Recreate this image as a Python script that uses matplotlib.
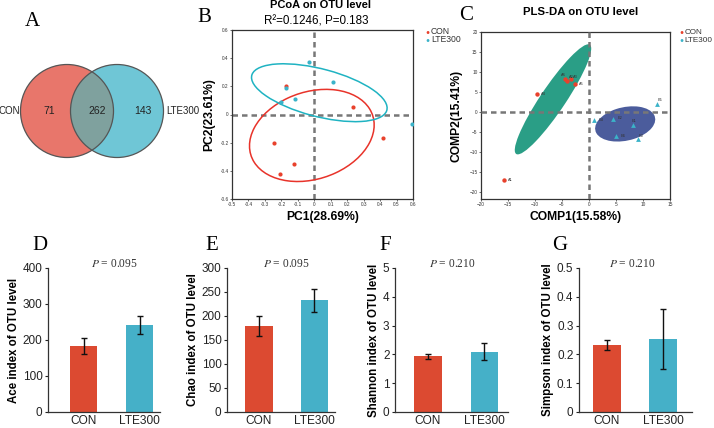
import numpy as np
import matplotlib
matplotlib.use("Agg")
import matplotlib.pyplot as plt
from matplotlib.patches import Circle, Ellipse

plt.rcParams['font.family'] = ['Liberation Sans', 'DejaVu Sans']
plt.rcParams['mathtext.fontset'] = 'stix'

# ---------------- data ----------------
venn_groups = ['CON', 'LTE300']
venn_counts = [71, 262, 143]  # CON only, shared, LTE300 only

pcoa_con_x = [-0.17, 0.235, 0.42, -0.245, -0.123, -0.206]
pcoa_con_y = [0.20, 0.05, -0.167, -0.20, -0.35, -0.425]
pcoa_lte_x = [-0.03, 0.114, -0.174, -0.12, -0.20, 0.594]
pcoa_lte_y = [0.375, 0.23, 0.19, 0.11, 0.09, -0.067]

plsda_con_labels = ['A1', 'A2', 'A3', 'A4', 'A5', 'A6']
plsda_con_x = [-15.8, -4.0, -3.4, -9.7, -2.6, -4.5]
plsda_con_y = [-17.0, 7.8, 8.2, 4.6, 7.1, 8.3]
plsda_lte_labels = ['E1', 'E2', 'E3', 'E4', 'E5', 'E6']
plsda_lte_x = [8.2, 4.5, 9.0, 1.0, 12.5, 5.0]
plsda_lte_y = [-3.3, -1.8, -6.8, -2.0, 2.0, -6.0]

groups = ['CON', 'LTE300']
ace_mean = [184, 243]
ace_err = [22, 25]
chao_mean = [179, 233]
chao_err = [20, 24]
shannon_mean = [1.93, 2.10]
shannon_err = [0.10, 0.30]
simpson_mean = [0.234, 0.254]
simpson_err = [0.017, 0.103]
p_values = ['0.095', '0.095', '0.210', '0.210']

# ---------------- layout helpers ----------------
W, H = 714, 428
fig = plt.figure(figsize=(W / 100, H / 100), dpi=100)


def px_axes(l, t, r, b):
    return fig.add_axes([l / W, 1 - b / H, (r - l) / W, (b - t) / H])


def ftext(x, y, s, **kw):
    kw.setdefault('ha', 'center')
    kw.setdefault('va', 'center')
    return fig.text(x / W, 1 - y / H, s, **kw)


def conf_ellipse(ax, x, y, n_std, **kw):
    x = np.asarray(x); y = np.asarray(y)
    cov = np.cov(x, y)
    vals, vecs = np.linalg.eigh(cov)
    order = vals.argsort()[::-1]
    vals, vecs = vals[order], vecs[:, order]
    angle = np.degrees(np.arctan2(vecs[1, 0], vecs[0, 0]))
    w, h = 2 * n_std * np.sqrt(vals)
    e = Ellipse((x.mean(), y.mean()), w, h, angle=angle, **kw)
    ax.add_patch(e)
    return e


SERIF = ['Liberation Serif', 'DejaVu Serif']
RED = '#E8412C'
CYAN = '#3BB3C9'

# ---------------- A: Venn ----------------
axA = px_axes(0, 0, 190, 220)
axA.set_xlim(0, 190)
axA.set_ylim(220, 0)
axA.set_aspect('equal')
axA.axis('off')
cl = Circle((67, 111), 46.5, facecolor='#E8766B', edgecolor='none')
cr = Circle((117, 111), 46.5, facecolor='#6FC6D6', edgecolor='none')
axA.add_patch(cl)
axA.add_patch(cr)
ov = Circle((117, 111), 46.5, facecolor='#7FA19E', edgecolor='none')
axA.add_patch(ov)
ov.set_clip_path(cl)
axA.add_patch(Circle((67, 111), 46.5, facecolor='none', edgecolor='#555555', lw=0.9))
axA.add_patch(Circle((117, 111), 46.5, facecolor='none', edgecolor='#555555', lw=0.9))
axA.text(49, 111, str(venn_counts[0]), ha='center', va='center', fontsize=7.5, color='#222222')
axA.text(97, 111, str(venn_counts[1]), ha='center', va='center', fontsize=7.5, color='#222222')
axA.text(143, 111, str(venn_counts[2]), ha='center', va='center', fontsize=7.5, color='#222222')
axA.text(20, 111, venn_groups[0], ha='right', va='center', fontsize=7, color='#222222')
axA.text(166, 111, venn_groups[1], ha='left', va='center', fontsize=7, color='#222222')
ftext(32, 21, 'A', fontsize=15, family=SERIF)

# ---------------- B: PCoA ----------------
axB = px_axes(232, 30, 413, 199)
axB.set_xlim(-0.5, 0.6)
axB.set_ylim(-0.6, 0.6)
axB.axvline(0, color='#777777', lw=1.8, ls=(0, (2.2, 1.6)), zorder=1)
axB.axhline(0, color='#777777', lw=1.8, ls=(0, (2.2, 1.6)), zorder=1)
conf_ellipse(axB, pcoa_con_x, pcoa_con_y, 1.38, facecolor='none', edgecolor='#E8332A', lw=1.1, zorder=2)
conf_ellipse(axB, pcoa_lte_x, pcoa_lte_y, 1.38, facecolor='none', edgecolor='#1FB3C2', lw=1.1, zorder=2)
axB.scatter(pcoa_con_x, pcoa_con_y, s=9, color=RED, zorder=3, lw=0)
axB.scatter(pcoa_lte_x, pcoa_lte_y, s=9, color=CYAN, zorder=3, lw=0)
axB.set_xticks(np.round(np.arange(-0.5, 0.61, 0.1), 1))
axB.set_yticks(np.round(np.arange(-0.6, 0.61, 0.2), 1))
axB.set_xticklabels(['-0.5', '-0.4', '-0.3', '-0.2', '-0.1', '0', '0.1', '0.2', '0.3', '0.4', '0.5', '0.6'])
axB.set_yticklabels(['-0.6', '-0.4', '-0.2', '0', '0.2', '0.4', '0.6'])
axB.tick_params(labelsize=3.4, length=1.5, width=0.5, pad=1, colors='#333333')
for s in axB.spines.values():
    s.set_linewidth(0.9)
    s.set_color('#333333')
axB.set_xlabel('PC1(28.69%)', fontsize=8.7, fontweight='bold', labelpad=2.5)
axB.set_ylabel('PC2(23.61%)', fontsize=8.7, fontweight='bold', labelpad=3.5)
ftext(320, 5.5, 'PCoA on OTU level', fontsize=8.0, fontweight='bold')
ftext(316, 21, 'R\u00b2=0.1246, P=0.183', fontsize=8.4)
ftext(204, 18, 'B', fontsize=15, family=SERIF)
# legend B
ftext(427, 32, '\u25cf', fontsize=4.8, color=RED)
ftext(427, 40, '\u25cf', fontsize=4.8, color=CYAN)
ftext(431, 32, 'CON', fontsize=6.2, ha='left', color='#333333')
ftext(431, 40, 'LTE300', fontsize=6.2, ha='left', color='#333333')

# ---------------- C: PLS-DA ----------------
axC = px_axes(481, 32, 670, 199)
axC.set_xlim(-20, 15)
axC.set_ylim(-21.75, 20)
axC.axvline(0, color='#777777', lw=1.8, ls=(0, (2.2, 1.6)), zorder=3)
axC.axhline(0, color='#777777', lw=1.8, ls=(0, (2.2, 1.6)), zorder=3)
conf_ellipse(axC, plsda_con_x, plsda_con_y, 1.38, facecolor='#2A9E86', edgecolor='none', zorder=2)
conf_ellipse(axC, plsda_lte_x, plsda_lte_y, 1.38, facecolor='#4B5C9C', edgecolor='none', zorder=2)
axC.scatter(plsda_con_x, plsda_con_y, s=10, color=RED, zorder=4, lw=0)
axC.scatter(plsda_lte_x, plsda_lte_y, s=12, marker='^', color=CYAN, zorder=4, lw=0)
con_off = {'A1': (3, 0), 'A2': (1, 3), 'A3': (2, 1.5), 'A4': (3, 0), 'A5': (3, 0), 'A6': (-3, 3)}
for lab, x, y in zip(plsda_con_labels, plsda_con_x, plsda_con_y):
    axC.annotate(lab, (x, y), xytext=con_off[lab], textcoords='offset points', fontsize=2.8,
                 color='#333333', va='center', ha='left', zorder=5)
lte_off = {'E1': (-1, 3), 'E2': (3, 1), 'E3': (1, 2.5), 'E4': (3, 0), 'E5': (1, 3), 'E6': (3, 0)}
for lab, x, y in zip(plsda_lte_labels, plsda_lte_x, plsda_lte_y):
    axC.annotate(lab, (x, y), xytext=lte_off[lab], textcoords='offset points', fontsize=2.8,
                 color='#333333', va='center', ha='left', zorder=5)
axC.set_xticks(np.arange(-20, 16, 5))
axC.set_yticks(np.arange(-20, 21, 5))
axC.tick_params(labelsize=3.4, length=1.5, width=0.5, pad=1, colors='#333333')
for s in axC.spines.values():
    s.set_linewidth(0.9)
    s.set_color('#333333')
axC.set_xlabel('COMP1(15.58%)', fontsize=8.7, fontweight='bold', labelpad=2.5)
axC.set_ylabel('COMP2(15.41%)', fontsize=8.7, fontweight='bold', labelpad=5)
ftext(581, 12, 'PLS-DA on OTU level', fontsize=8.2, fontweight='bold')
ftext(466, 15, 'C', fontsize=15, family=SERIF)
ftext(681, 32, '\u25cf', fontsize=4.8, color=RED)
ftext(681, 40, '\u25cf', fontsize=4.8, color=CYAN)
ftext(684.5, 32, 'CON', fontsize=5.9, ha='left', color='#333333')
ftext(684.5, 40, 'LTE300', fontsize=5.9, ha='left', color='#333333')

# ---------------- D-G: bars ----------------
BAR_COLORS = ['#DC4A31', '#45B0C8']
panels = [
    dict(l=48, r=160, xlim=(-0.634, 1.366), mean=ace_mean, err=ace_err, ylim=400,
         ticks=[0, 100, 200, 300, 400], tl=['0', '100', '200', '300', '400'],
         ylabel='Ace index of OTU level', letter='D', lx=40, p=p_values[0], px=114),
    dict(l=227, r=335, xlim=(-0.577, 1.37), mean=chao_mean, err=chao_err, ylim=300,
         ticks=[0, 50, 100, 150, 200, 250, 300], tl=['0', '50', '100', '150', '200', '250', '300'],
         ylabel='Chao index of OTU level', letter='E', lx=212, p=p_values[1], px=286),
    dict(l=395, r=508, xlim=(-0.584, 1.416), mean=shannon_mean, err=shannon_err, ylim=5,
         ticks=[0, 1, 2, 3, 4, 5], tl=['0', '1', '2', '3', '4', '5'],
         ylabel='Shannon index of OTU level', letter='F', lx=385, p=p_values[2], px=452),
    dict(l=579, r=692, xlim=(-0.5, 1.518), mean=simpson_mean, err=simpson_err, ylim=0.5,
         ticks=[0, 0.1, 0.2, 0.3, 0.4, 0.5], tl=['0', '0.1', '0.2', '0.3', '0.4', '0.5'],
         ylabel='Simpson index of OTU level', letter='G', lx=560, p=p_values[3], px=632),
]
for pnl in panels:
    ax = px_axes(pnl['l'], 268, pnl['r'], 412)
    xs = np.arange(len(groups))
    ax.bar(xs, pnl['mean'], width=0.49, color=BAR_COLORS, edgecolor='none', zorder=2)
    ax.errorbar(xs, pnl['mean'], yerr=pnl['err'], fmt='none', ecolor='#111111',
                elinewidth=1.0, capsize=2.2, capthick=1.0, zorder=3)
    ax.set_xlim(*pnl['xlim'])
    ax.set_ylim(0, pnl['ylim'])
    ax.set_yticks(pnl['ticks'])
    ax.set_yticklabels(pnl['tl'])
    ax.set_xticks(xs)
    ax.set_xticklabels(groups)
    ax.tick_params(axis='y', labelsize=8.5, length=2.5, width=0.8, pad=1.5, colors='#222222')
    ax.tick_params(axis='x', labelsize=8.6, length=0, pad=2, colors='#222222')
    for side in ('top', 'right'):
        ax.spines[side].set_visible(False)
    for side in ('left', 'bottom'):
        ax.spines[side].set_linewidth(0.9)
        ax.spines[side].set_color('#333333')
    ax.set_ylabel(pnl['ylabel'], fontsize=8.3, fontweight='bold', labelpad=2)
    ftext(pnl['lx'], 246, pnl['letter'], fontsize=15, family=SERIF)
    ftext(pnl['px'], 264, r'$P$' + ' = ' + pnl['p'], fontsize=8.3, family=SERIF, color='#333333')

fig.savefig('out.png', dpi=100)
